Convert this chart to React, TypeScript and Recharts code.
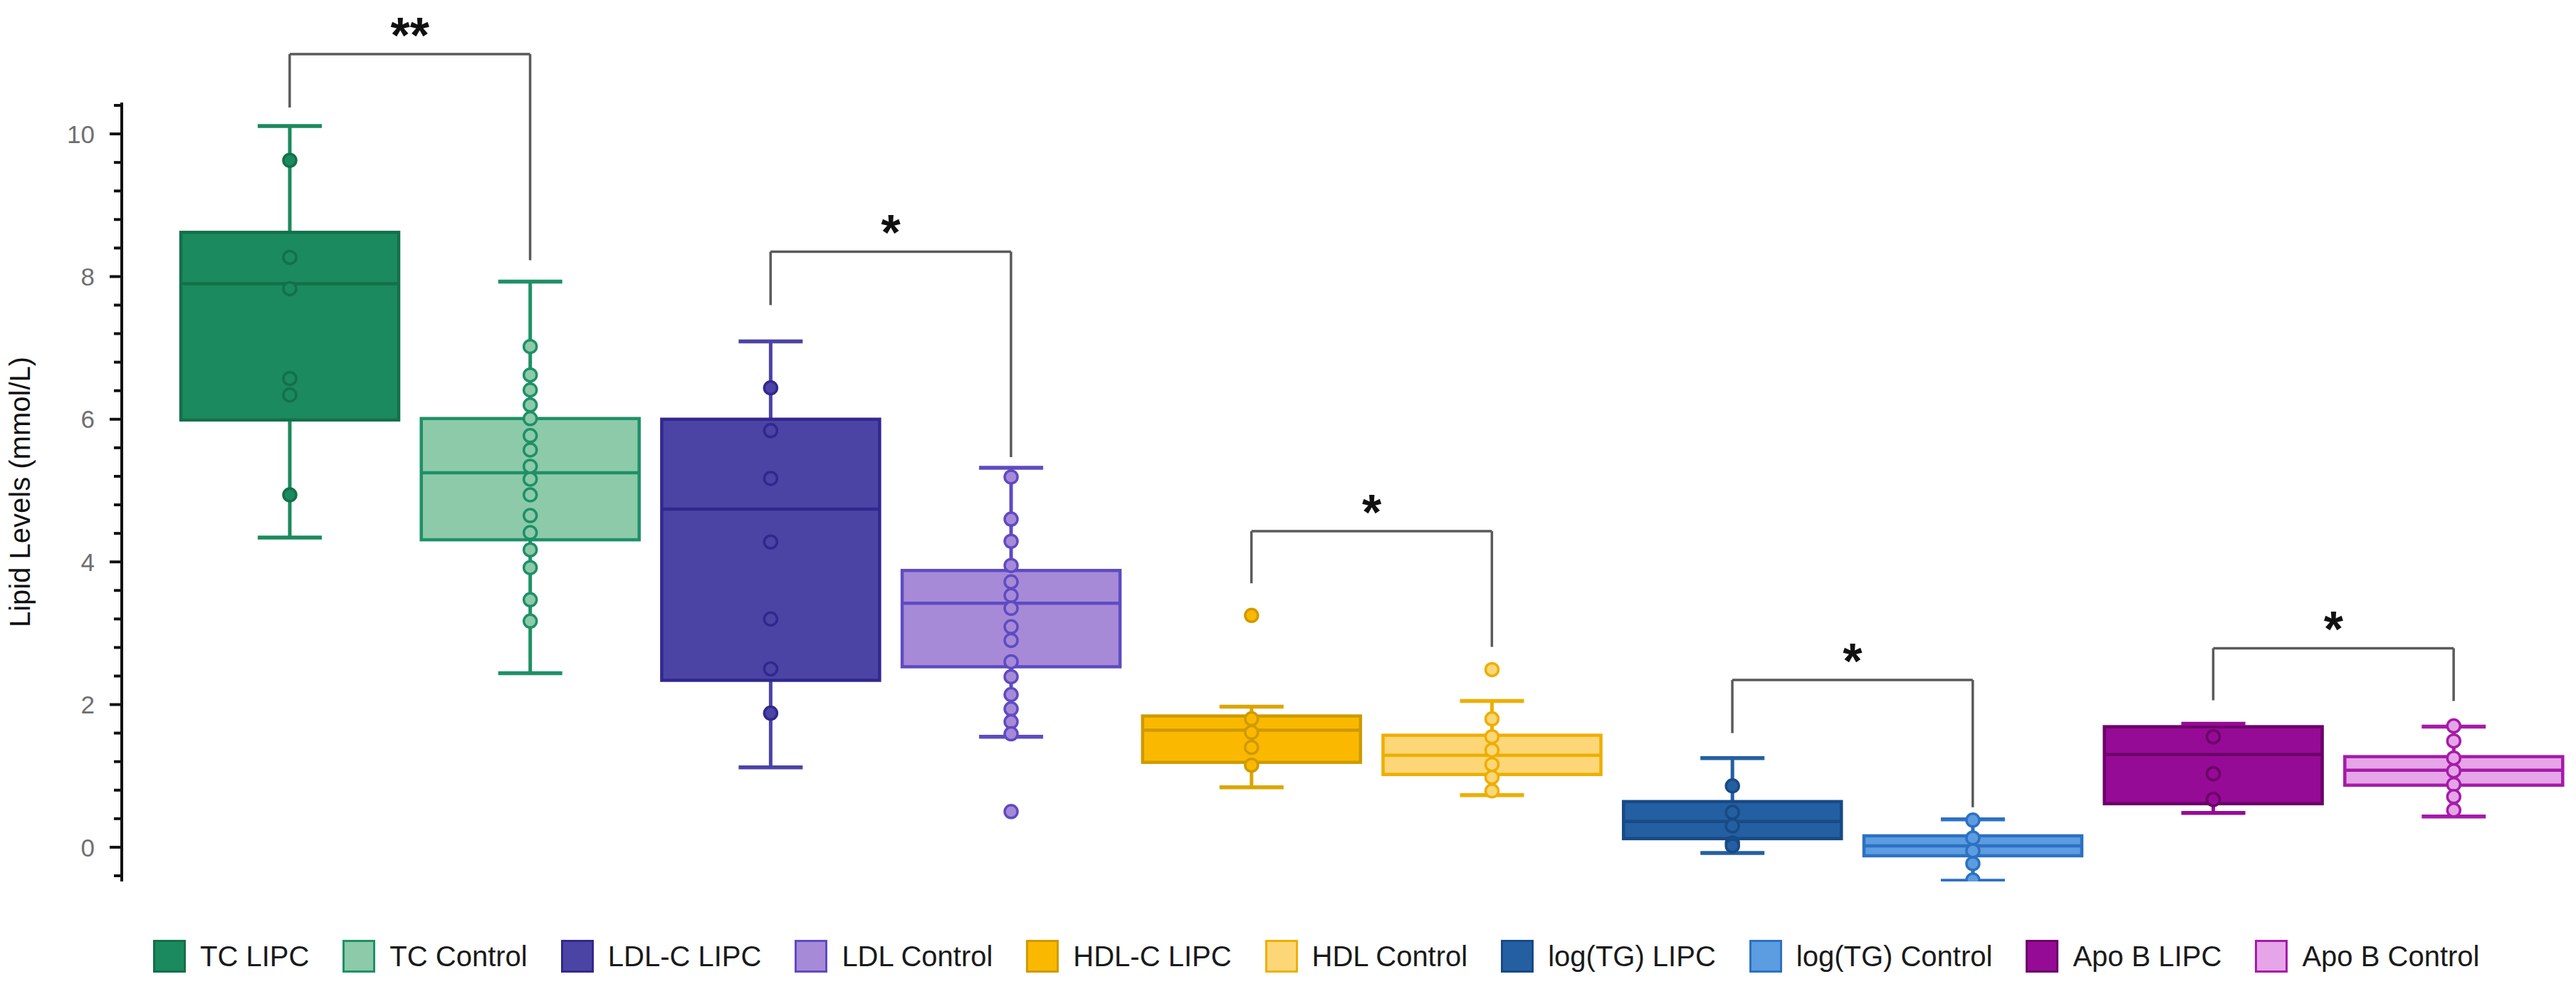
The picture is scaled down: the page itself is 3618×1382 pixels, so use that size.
import React from 'react';
import { ComposedChart, Bar, XAxis, YAxis, ReferenceLine, Legend } from 'recharts';

const categories = [
  'TC LIPC', 'TC Control', 'LDL-C LIPC', 'LDL Control', 'HDL-C LIPC',
  'HDL Control', 'log(TG) LIPC', 'log(TG) Control', 'Apo B LIPC', 'Apo B Control',
];
const whiskerLow = [4.34, 2.44, 1.12, 1.55, 0.84, 0.73, -0.08, -0.47, 0.48, 0.43];
const q1 = [5.99, 4.31, 2.34, 2.53, 1.19, 1.02, 0.12, -0.12, 0.61, 0.87];
const median = [7.9, 5.25, 4.74, 3.42, 1.64, 1.29, 0.36, 0.02, 1.3, 1.08];
const q3 = [8.62, 6.01, 6.0, 3.88, 1.84, 1.57, 0.64, 0.16, 1.69, 1.27];
const whiskerHigh = [10.11, 7.93, 7.09, 5.32, 1.97, 2.05, 1.25, 0.39, 1.73, 1.69];
const points = [
  [9.63, 8.27, 7.83, 6.57, 6.34, 4.94],
  [7.02, 6.62, 6.41, 6.2, 6.01, 5.77, 5.57, 5.34, 5.16, 4.94, 4.65, 4.41, 4.17, 3.92, 3.47, 3.17],
  [6.44, 5.84, 5.17, 4.28, 3.2, 2.5, 1.88],
  [5.19, 4.6, 4.29, 3.95, 3.72, 3.53, 3.35, 3.09, 2.9, 2.6, 2.39, 2.14, 1.94, 1.76, 1.59, 0.5],
  [3.25, 1.8, 1.61, 1.4, 1.15],
  [2.49, 1.8, 1.55, 1.36, 1.16, 0.98, 0.79],
  [0.86, 0.49, 0.3, 0.06, 0.02],
  [0.38, 0.13, -0.05, -0.23, -0.46],
  [1.55, 1.03, 0.67],
  [1.7, 1.49, 1.25, 1.07, 0.88, 0.71, 0.52],
];

const yTicks = [
  -0.4, 0, 0.4, 0.8, 1.2, 1.6, 2, 2.4, 2.8, 3.2, 3.6, 4, 4.4, 4.8, 5.2, 5.6,
  6, 6.4, 6.8, 7.2, 7.6, 8, 8.4, 8.8, 9.2, 9.6, 10, 10.4,
];
const yLabels = [0, 2, 4, 6, 8, 10];

const brackets = [
  { from: 'TC LIPC', to: 'TC Control', top: 11.12, fromEnd: 10.37, toEnd: 8.23, mark: '**' },
  { from: 'LDL-C LIPC', to: 'LDL Control', top: 8.35, fromEnd: 7.6, toEnd: 5.47, mark: '*' },
  { from: 'HDL-C LIPC', to: 'HDL Control', top: 4.43, fromEnd: 3.7, toEnd: 2.81, mark: '*' },
  { from: 'log(TG) LIPC', to: 'log(TG) Control', top: 2.345, fromEnd: 1.6, toEnd: 0.56, mark: '*' },
  { from: 'Apo B LIPC', to: 'Apo B Control', top: 2.79, fromEnd: 2.06, toEnd: 2.05, mark: '*' },
];

const fills = ['#1b8a5e', '#8ccaaa', '#4c44a5', '#a68ad7', '#fab900', '#fdd777', '#245fa1', '#5c9ce0', '#950b95', '#e6a4e9'];
const strokes = ['#13704a', '#1f9066', '#31288f', '#5e4bc2', '#cf9a00', '#eeae00', '#174a86', '#2d71c2', '#6c0069', '#a51ba8'];
const whiskerColors = ['#1b8a5e', '#1f9066', '#4c44a5', '#5e4bc2', '#dba600', '#eeae00', '#245fa1', '#2d71c2', '#950b95', '#a51ba8'];

const FONT = '"Liberation Sans", Arial, sans-serif';

const rows = categories.map((name, i) => ({
  name,
  idx: i,
  range: [whiskerLow[i], whiskerHigh[i]],
  lo: whiskerLow[i],
  hi: whiskerHigh[i],
  q1: q1[i],
  med: median[i],
  q3: q3[i],
  pts: points[i],
}));

function BoxShape(props: any) {
  const { x, y, width, height } = props;
  const p = props.payload && props.payload.pts ? props.payload : props;
  const i = p.idx;
  const top = Math.min(y, y + height);
  const h = Math.abs(height);
  const ppu = h / (p.hi - p.lo);
  const Y = (v: number) => top + (p.hi - v) * ppu;
  const cx = x + width / 2;
  const capHalf = 45;
  const fill = fills[i];
  const stroke = strokes[i];
  const wc = whiskerColors[i];
  return (
    <g>
      <line x1={cx} x2={cx} y1={Y(p.hi)} y2={Y(p.lo)} stroke={wc} strokeWidth={5} />
      <rect x={x} y={Y(p.q3)} width={width} height={Y(p.q1) - Y(p.q3)} fill={fill} stroke={stroke} strokeWidth={4.5} />
      <line x1={x} x2={x + width} y1={Y(p.med)} y2={Y(p.med)} stroke={stroke} strokeWidth={4.5} />
      <line x1={cx - capHalf} x2={cx + capHalf} y1={Y(p.hi)} y2={Y(p.hi)} stroke={wc} strokeWidth={5.5} />
      <line x1={cx - capHalf} x2={cx + capHalf} y1={Y(p.lo)} y2={Y(p.lo)} stroke={wc} strokeWidth={5.5} />
      {p.pts.map((v: number, k: number) => (
        <circle key={k} cx={cx} cy={Y(v)} r={9} fill={fill} stroke={stroke} strokeWidth={3.5} />
      ))}
    </g>
  );
}

function YTick(props: any) {
  const { x, y, payload } = props;
  const v = payload.value;
  const major = yLabels.some((l) => Math.abs(l - v) < 1e-6);
  return (
    <g>
      <line x1={x - (major ? 17 : 11)} x2={x} y1={y} y2={y} stroke="#111" strokeWidth={4} />
      {major && (
        <text x={x - 38} y={y} dy="0.36em" textAnchor="end" fontSize={35} fill="#6f6f6f" fontFamily={FONT}>
          {v}
        </text>
      )}
    </g>
  );
}

function AxisTitle(props: any) {
  const vb = props.viewBox || { x: 0, y: 144, width: 171, height: 1094 };
  const tx = vb.x + 42;
  const ty = vb.y + vb.height / 2;
  return (
    <text x={tx} y={ty} transform={`rotate(-90, ${tx}, ${ty})`} textAnchor="middle" fontSize={40} fill="#111" fontFamily={FONT}>
      Lipid Levels (mmol/L)
    </text>
  );
}

function makeStar(mark: string) {
  return (props: any) => {
    const vb = props.viewBox;
    if (!vb) return null;
    return (
      <text x={vb.x + vb.width / 2} y={vb.y - 2} textAnchor="middle" fontSize={70} fontWeight="bold" fill="#111" fontFamily={FONT}>
        {mark}
      </text>
    );
  };
}

function LegendContent() {
  return (
    <div style={{ display: 'flex', alignItems: 'center', fontFamily: FONT, fontSize: 40, color: '#1a1a1a', whiteSpace: 'nowrap' }}>
      {categories.map((c, i) => (
        <div key={c} style={{ display: 'flex', alignItems: 'center', marginRight: 47 }}>
          <div style={{ width: 46, height: 46, boxSizing: 'border-box', background: fills[i], border: `3.5px solid ${strokes[i]}`, marginRight: 20 }} />
          <span>{c}</span>
        </div>
      ))}
    </div>
  );
}

export default function App() {
  return (
    <div style={{ position: 'absolute', left: 0, top: 0, width: 3618, height: 1382, background: '#fff' }}>
      <ComposedChart width={3618} height={1382} data={rows} margin={{ top: 144, right: 3, bottom: 144, left: 0 }}>
        <XAxis dataKey="name" type="category" hide padding={{ left: 67, right: 0 }} />
        <YAxis
          type="number"
          domain={[-0.48, 10.44]}
          allowDataOverflow
          ticks={yTicks}
          interval={0}
          width={171}
          tickSize={0}
          tickMargin={0}
          tickLine={false}
          axisLine={{ stroke: '#111', strokeWidth: 4 }}
          tick={<YTick />}
          label={<AxisTitle />}
        />
        <Bar dataKey="range" barSize={306} shape={<BoxShape />} isAnimationActive={false} />
        {brackets.map((b) => (
          <ReferenceLine
            key={b.from + 'L'}
            segment={[{ x: b.from, y: b.fromEnd }, { x: b.from, y: b.top }]}
            stroke="#5a5a5a"
            strokeWidth={3.5}
            ifOverflow="visible"
          />
        ))}
        {brackets.map((b) => (
          <ReferenceLine
            key={b.from + 'T'}
            segment={[{ x: b.from, y: b.top }, { x: b.to, y: b.top }]}
            stroke="#5a5a5a"
            strokeWidth={3.5}
            ifOverflow="visible"
            label={makeStar(b.mark)}
          />
        ))}
        {brackets.map((b) => (
          <ReferenceLine
            key={b.from + 'R'}
            segment={[{ x: b.to, y: b.top }, { x: b.to, y: b.toEnd }]}
            stroke="#5a5a5a"
            strokeWidth={3.5}
            ifOverflow="visible"
          />
        ))}
        <Legend
          layout="horizontal"
          verticalAlign="middle"
          align="center"
          content={<LegendContent />}
          wrapperStyle={{ left: 215, top: 1320, width: 3400, height: 46 }}
        />
      </ComposedChart>
    </div>
  );
}
